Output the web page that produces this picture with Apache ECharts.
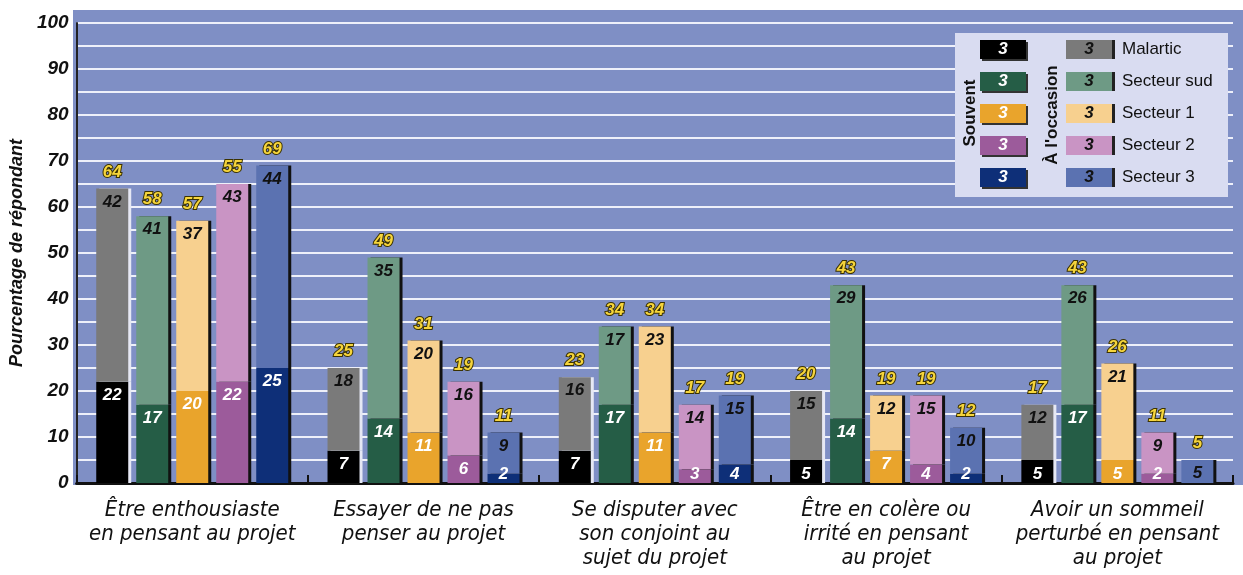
<!DOCTYPE html>
<html>
<head>
<meta charset="utf-8">
<script src="https://cdn.jsdelivr.net/npm/echarts@6/dist/echarts.min.js"></script>
<style>
  html, body { margin: 0; padding: 0; background: #fff; }
  #chart { width: 1243px; height: 575px; }
</style>
</head>
<body>
<div id="chart"></div>
<script>
// categories (x axis)
var categories = [
    'Être enthousiaste\nen pensant au projet',
    'Essayer de ne pas\npenser au projet',
    'Se disputer avec\nson conjoint au\nsujet du projet',
    'Être en colère ou\nirrité en pensant\nau projet',
    'Avoir un sommeil\nperturbé en pensant\nau projet'
];

var groups = ['Malartic', 'Secteur sud', 'Secteur 1', 'Secteur 2', 'Secteur 3'];

// Souvent / À l'occasion values, and printed totals, per group
var malarticSouvent = [22, 7, 7, 5, 5];
var malarticOccasion = [42, 18, 16, 15, 12];
var malarticTotal = [64, 25, 23, 20, 17];

var sudSouvent = [17, 14, 17, 14, 17];
var sudOccasion = [41, 35, 17, 29, 26];
var sudTotal = [58, 49, 34, 43, 43];

var s1Souvent = [20, 11, 11, 7, 5];
var s1Occasion = [37, 20, 23, 12, 21];
var s1Total = [57, 31, 34, 19, 26];

var s2Souvent = [22, 6, 3, 4, 2];
var s2Occasion = [43, 16, 14, 15, 9];
var s2Total = [55, 19, 17, 19, 11];

var s3Souvent = [25, 2, 4, 2, 0];
var s3Occasion = [44, 9, 15, 10, 5];
var s3Total = [69, 11, 19, 12, 5];

var souvent = [malarticSouvent, sudSouvent, s1Souvent, s2Souvent, s3Souvent];
var occasion = [malarticOccasion, sudOccasion, s1Occasion, s2Occasion, s3Occasion];
var totals = [malarticTotal, sudTotal, s1Total, s2Total, s3Total];

var yTicks = [0, 10, 20, 30, 40, 50, 60, 70, 80, 90, 100];

// colours
var darkColors = ['#000000', '#255d46', '#e9a42c', '#9c5b9b', '#0e2f78'];
var lightColors = ['#7a7a7a', '#6e9a85', '#f7d08f', '#c994c4', '#5b72b1'];
var edgeColors = ['#e6e8f4', '#111', '#111', '#111', '#111'];

var numFont = 'Liberation Sans, Arial, sans-serif';

var series = [];
groups.forEach(function (g, i) {
    series.push({
        name: g + ' souvent',
        type: 'bar',
        stack: g,
        barWidth: 32,
        barGap: '25%',
        barCategoryGap: '17%',
        itemStyle: { color: darkColors[i], shadowColor: edgeColors[i], shadowOffsetX: 3, shadowBlur: 0 },
        data: souvent[i].map(function (v) {
            return {
                value: v,
                label: { position: v <= 5 ? 'insideBottom' : 'insideTop', distance: v <= 5 ? 0 : 5 }
            };
        }),
        label: {
            show: true,
            color: '#fff',
            fontFamily: numFont,
            fontSize: 17,
            fontWeight: 'bold',
            fontStyle: 'italic',
            formatter: function (p) { return p.value ? p.value : ''; }
        }
    });
    series.push({
        name: g + ' occasion',
        type: 'bar',
        stack: g,
        barWidth: 32,
        itemStyle: { color: lightColors[i], shadowColor: edgeColors[i], shadowOffsetX: 3, shadowBlur: 0 },
        data: occasion[i],
        label: {
            show: true,
            position: 'insideTop',
            distance: 5,
            color: '#111',
            fontFamily: numFont,
            fontSize: 17,
            fontWeight: 'bold',
            fontStyle: 'italic'
        }
    });
    series.push({
        name: g + ' total',
        type: 'bar',
        stack: g,
        barWidth: 32,
        itemStyle: { color: 'transparent' },
        data: totals[i].map(function () { return 0; }),
        label: {
            show: true,
            position: 'top',
            distance: 8,
            color: '#f6d53c',
            textBorderColor: '#3b3200',
            textBorderWidth: 2,
            fontFamily: numFont,
            fontSize: 17,
            fontWeight: 'bold',
            fontStyle: 'italic',
            formatter: function (p) { return totals[i][p.dataIndex]; }
        }
    });
});

// legend box drawn with graphic elements
var graphic = [
    { type: 'rect', z: -10, silent: true, shape: { x: 73, y: 10, width: 1170, height: 475 }, style: { fill: '#7f8fc5' } },
    { type: 'rect', z: 10, shape: { x: 955, y: 33, width: 273, height: 164 }, style: { fill: '#d9dcf1' } },
    { type: 'text', z: 11, x: 970, y: 113, rotation: Math.PI / 2,
      style: { text: 'Souvent', font: 'bold 17px ' + numFont, fill: '#111', textAlign: 'center', textVerticalAlign: 'middle' } },
    { type: 'text', z: 11, x: 1052, y: 115, rotation: Math.PI / 2,
      style: { text: 'À l\'occasion', font: 'bold 17px ' + numFont, fill: '#111', textAlign: 'center', textVerticalAlign: 'middle' } }
];
var rowY = [49, 81, 113, 145, 177];
groups.forEach(function (g, i) {
    var y = rowY[i];
    graphic.push({ type: 'rect', z: 11, shape: { x: 980, y: y - 9, width: 46, height: 19 },
        style: { fill: darkColors[i], shadowColor: '#333', shadowOffsetX: 2, shadowOffsetY: 2, shadowBlur: 0 } });
    graphic.push({ type: 'text', z: 12, x: 1003, y: y,
        style: { text: '3', font: 'italic bold 17px ' + numFont, fill: '#fff', textAlign: 'center', textVerticalAlign: 'middle' } });
    graphic.push({ type: 'rect', z: 11, shape: { x: 1066, y: y - 9, width: 46, height: 19 },
        style: { fill: lightColors[i], shadowColor: '#222', shadowOffsetX: 3, shadowOffsetY: 0, shadowBlur: 0 } });
    graphic.push({ type: 'text', z: 12, x: 1089, y: y,
        style: { text: '3', font: 'italic bold 17px ' + numFont, fill: '#111', textAlign: 'center', textVerticalAlign: 'middle' } });
    graphic.push({ type: 'text', z: 12, x: 1122, y: y,
        style: { text: g, font: '17px ' + numFont, fill: '#111', textAlign: 'left', textVerticalAlign: 'middle' } });
});

var chart = echarts.init(document.getElementById('chart'));
chart.setOption({
    animation: false,
    backgroundColor: '#fff',
    grid: { left: 72, right: 10, top: 23, bottom: 92 },
    graphic: graphic,
    xAxis: {
        type: 'category',
        data: categories,
        axisLine: { lineStyle: { color: '#111', width: 3 } },
        axisTick: { show: true, inside: true, length: 8, lineStyle: { color: '#111', width: 2 } },
        axisLabel: {
            interval: 0,
            margin: 15,
            color: '#111',
            fontFamily: 'Liberation Sans Narrow, DejaVu Sans Condensed, Arial, sans-serif',
            fontSize: 22,
            fontStyle: 'italic',
            lineHeight: 24
        }
    },
    yAxis: {
        type: 'value',
        min: 0,
        max: 100,
        interval: 5,
        name: 'Pourcentage de répondant',
        nameLocation: 'middle',
        nameGap: 39,
        nameRotate: 90,
        nameTextStyle: { color: '#111', fontFamily: numFont, fontSize: 18, fontWeight: 'bold', fontStyle: 'italic' },
        axisLine: { show: true, lineStyle: { color: '#222', width: 2 } },
        axisTick: { show: false },
        axisLabel: {
            color: '#111',
            fontFamily: numFont,
            fontSize: 19,
            fontWeight: 'bold',
            fontStyle: 'italic',
            margin: 8,
            formatter: function (v) { return yTicks.indexOf(v) >= 0 ? v : ''; }
        },
        splitLine: { lineStyle: { color: '#eef0fa', width: 2 } }
    },
    series: series
});
</script>
</body>
</html>
